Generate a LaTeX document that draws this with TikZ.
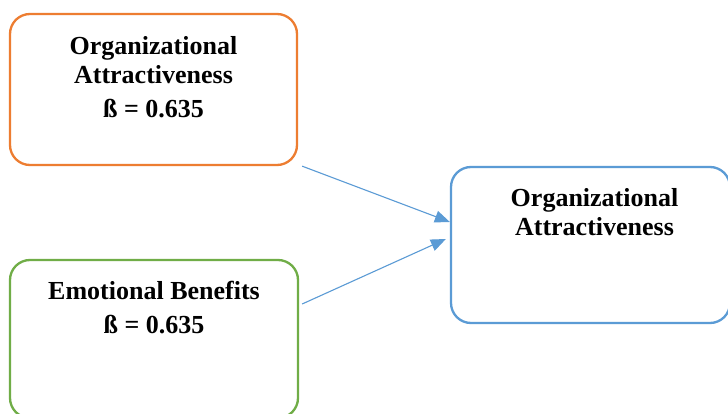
\documentclass[tikz,border=0pt]{standalone}
\usepackage{fontspec}
\setmainfont{Liberation Serif}
\usepackage{tikz}
\usetikzlibrary{positioning, arrows.meta}

\definecolor{boxorange}{HTML}{ED7D31}
\definecolor{boxgreen}{HTML}{70AD47}
\definecolor{boxblue}{HTML}{5B9BD5}

\begin{document}
\begin{tikzpicture}[
    x=1pt, y=-1pt,
    every node/.style={inner sep=0pt},
    factor/.style={rectangle, rounded corners=20pt, line width=2.3pt, fill=white},
    caption/.style={align=center, font=\fontsize{26}{29}\selectfont\bfseries},
    flow/.style={draw=boxblue, line width=1.1pt, -{Triangle[length=15pt,width=12pt]}}
]

\useasboundingbox[fill=white] (0,0) rectangle (728,414);

\node[factor, draw=boxorange, minimum width=287pt, minimum height=151pt] (orange) at (153.5,89.5) {};
\node[factor, draw=boxgreen, minimum width=288pt, minimum height=158pt] (green) at (154,339) {};
\node[factor, draw=boxblue, minimum width=279pt, minimum height=156pt] (blue) at (590.5,245) {};

\node[caption, below=23pt of orange.north] (orangetext) {Organizational\\Attractiveness\\[5pt]ß = 0.635};
\node[caption, below=22pt of green.north] (greentext) {Emotional Benefits\\[5pt]ß = 0.635};
\node[caption, below=22pt of blue.north, xshift=4pt] (bluetext) {Organizational\\Attractiveness};

\draw[flow] ([xshift=4pt]orange.south east) -- ([yshift=23pt]blue.west);
\draw[flow] ([xshift=3pt,yshift=35pt]green.east) -- ([xshift=-4pt,yshift=6pt]blue.west);

\end{tikzpicture}
\end{document}
